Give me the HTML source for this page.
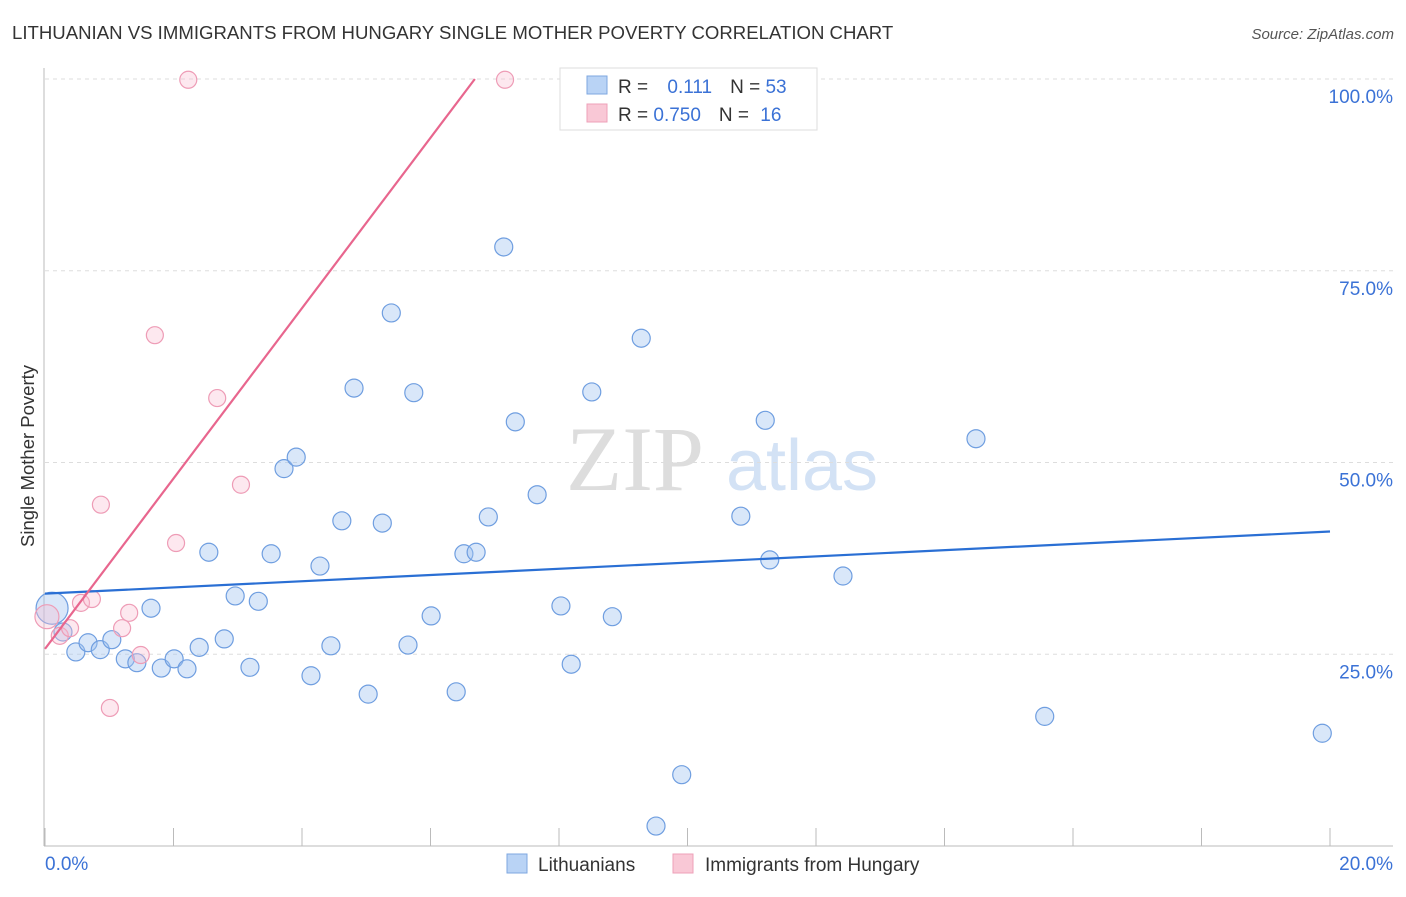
<!DOCTYPE html>
<html><head><meta charset="utf-8"><style>
body{margin:0;background:#fff;font-family:"Liberation Sans",sans-serif}
</style></head><body>
<svg id="chart" width="1406" height="892" xmlns="http://www.w3.org/2000/svg" font-family="Liberation Sans, sans-serif">
<text x="12" y="39" font-size="18.6" fill="#333">LITHUANIAN VS IMMIGRANTS FROM HUNGARY SINGLE MOTHER POVERTY CORRELATION CHART</text>
<text x="1394" y="39" font-size="15" fill="#555" text-anchor="end" font-style="italic">Source: ZipAtlas.com</text>
<text transform="translate(34,456) rotate(-90)" font-size="18.5" fill="#333" text-anchor="middle">Single Mother Poverty</text>
<g><text x="635" y="490" font-size="92" fill="#ddd" text-anchor="middle" font-family="Liberation Serif, serif">ZIP</text><text x="802" y="490" font-size="72" fill="#d3e2f5" text-anchor="middle">atlas</text></g>
<g id="grid"></g><g id="axes"></g><g id="marks"></g>
<g>
<rect x="560" y="68" width="257" height="62" fill="#fff" stroke="#ddd"/>
<rect x="587" y="76" width="20" height="18" fill="#b9d3f5" stroke="#7ea7e0"/>
<rect x="587" y="104" width="20" height="18" fill="#f9c8d6" stroke="#eea0b8"/>
<text x="618" y="93" font-size="19" fill="#333">R = <tspan fill="#3b72d6" dx="14">0.111</tspan><tspan fill="#333" dx="18">N = </tspan><tspan fill="#3b72d6">53</tspan></text>
<text x="618" y="121" font-size="19" fill="#333">R = <tspan fill="#3b72d6">0.750</tspan><tspan fill="#333" dx="18">N = </tspan><tspan fill="#3b72d6" dx="6">16</tspan></text>
</g>
<g>
<rect x="507" y="854" width="20" height="19" fill="#b9d3f5" stroke="#7ea7e0"/>
<text x="538" y="871" font-size="19" fill="#333">Lithuanians</text>
<rect x="673" y="854" width="20" height="19" fill="#f9c8d6" stroke="#eea0b8"/>
<text x="705" y="871" font-size="19" fill="#333">Immigrants from Hungary</text>
</g>
</svg>
<script>
const blueX=[0.11,0.28,0.48,0.67,0.86,1.04,1.25,1.43,1.65,1.81,2.01,2.21,2.40,2.55,2.79,2.96,3.19,3.32,3.52,3.72,3.91,4.14,4.28,4.45,4.62,4.81,5.03,5.25,5.39,5.65,5.74,6.01,6.40,6.52,6.71,6.90,7.14,7.32,7.66,8.03,8.19,8.51,8.83,9.28,9.51,9.91,10.83,11.21,11.28,12.42,14.49,15.56,19.88];
const blueY=[31.0,27.9,25.3,26.5,25.6,26.9,24.4,23.9,31.0,23.2,24.4,23.1,25.9,38.3,27.0,32.6,23.3,31.9,38.1,49.2,50.7,22.2,36.5,26.1,42.4,59.7,19.8,42.1,69.5,26.2,59.1,30.0,20.1,38.1,38.3,42.9,78.1,55.3,45.8,31.3,23.7,59.2,29.9,66.2,2.6,9.3,43.0,55.5,37.3,35.2,53.1,16.9,14.7];
const pinkX=[0.03,0.23,0.39,0.56,0.73,0.87,1.01,1.20,1.31,1.49,1.71,2.04,2.23,2.68,3.05,7.16];
const pinkY=[29.9,27.4,28.4,31.7,32.2,44.5,18.0,28.4,30.4,24.9,66.6,39.5,99.9,58.4,47.1,99.9];
const blueLine=[[0,32.9],[20,41.0]];
const pinkLine=[[0,25.7],[6.69,100]];
const yTicks=[25,50,75,100];
const xTicks=[0,2,4,6,8,10,12,14,16,18,20];
const NS='http://www.w3.org/2000/svg';
const sx=v=>45+v/20*1285, sy=v=>846-v/100*767;
function mk(t,a,p){const e=document.createElementNS(NS,t);for(const k in a)e.setAttribute(k,a[k]);document.getElementById(p).appendChild(e);return e;}
yTicks.forEach(t=>{const l=mk('line',{x1:45,x2:1393,y1:sy(t),y2:sy(t),stroke:'#ddd','stroke-dasharray':'4,4'},'grid');


const tx=mk('text',{x:1393,y:sy(t)+24,'font-size':19,fill:'#3b72d6','text-anchor':'end'},'axes');tx.textContent=t.toFixed(1)+'%';

});
const ya=mk('line',{x1:44,x2:44,y1:68,y2:846,stroke:'#bbb'},'axes');


const xa=mk('line',{x1:44,x2:1393,y1:846,y2:846,stroke:'#bbb'},'axes');


xTicks.forEach(t=>{const l=mk('line',{x1:sx(t),x2:sx(t),y1:828,y2:846,stroke:'#bbb'},'axes');

});
[[0,'0.0%','start',45],[20,'20.0%','end',1393]].forEach(d=>{const tx=mk('text',{x:d[3],y:870,'font-size':19,fill:'#3b72d6','text-anchor':d[2]},'axes');tx.textContent=d[1];

});
blueX.forEach((x,i)=>{const c=mk('circle',{cx:sx(x),cy:sy(blueY[i]),r:i==0?16:9,fill:'rgba(160,195,240,0.4)',stroke:'#6f9ee0','stroke-width':1.2},'marks');

});
pinkX.forEach((x,i)=>{const c=mk('circle',{cx:sx(x),cy:sy(pinkY[i]),r:i==0?12:8.5,fill:'rgba(248,190,208,0.35)',stroke:'#ee9cb6','stroke-width':1.2},'marks');

});
const bl=mk('line',{x1:sx(blueLine[0][0]),y1:sy(blueLine[0][1]),x2:sx(blueLine[1][0]),y2:sy(blueLine[1][1]),stroke:'#2a6fd4','stroke-width':2.2},'marks');


const pl=mk('line',{x1:sx(pinkLine[0][0]),y1:sy(pinkLine[0][1]),x2:sx(pinkLine[1][0]),y2:sy(pinkLine[1][1]),stroke:'#e8668e','stroke-width':2.2},'marks');


</script>
</body></html>
